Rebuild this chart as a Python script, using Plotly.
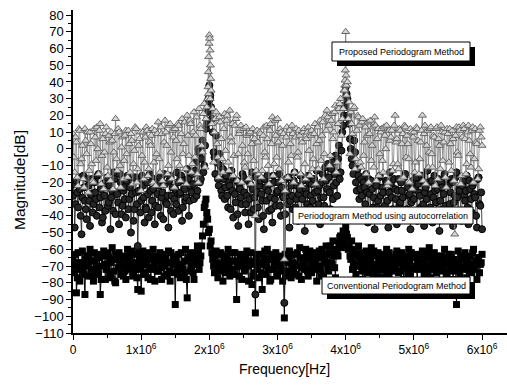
import plotly.graph_objects as go

# Frequency bins of the periodogram: even bins (0, 25 kHz, ... 6 MHz)
# and odd bins half-way between them (12.5 kHz resolution overall)
freq_even = [i * 25000 for i in range(241)]
freq_odd = [12500 + i * 25000 for i in range(240)]

# Proposed periodogram method (open triangles), dB
tri_even = [
    9, -14, 4, -22, 11, -6, -18, 12, -3, -26,
    10, -9, -20, 7, 13, -15, 15, -4, -24, 9,
    -11, 8, -19, 5, -2, 18, -13, 10, -23, 7,
    -7, 11, -17, 3, 9, -21, -1, 12, -12, 6,
    -25, 10, -8, 13, -16, 4, 8, -20, 11, -3,
    16, -14, 9, -22, 17, 2, -10, 15, -18, 7,
    12, -6, 14, -19, 18, 3, -12, 20, -4, 15,
    -9, 22, 8, -15, 24, 12, -2, 27, 18, 30,
    68, 35, 24, 10, 22, -5, 19, 6, -14, 21,
    17, -8, 23, 4, -16, 14, 20, -3, 11, -20,
    12, -11, 8, -18, 10, 3, -7, -40, 11, -15,
    9, -13, 13, -5, 6, -21, 15, 19, -9, 8,
    18, -12, 10, 2, -66, 7, -17, 11, -4, 9,
    -14, 12, -2, 8, -22, 10, -9, 6, 13, -16,
    11, -6, 15, 3, -12, 17, 8, -18, 20, 23,
    14, -4, 21, 10, 26, -8, 24, 30, 18, 35,
    70, 40, 28, 22, 9, 25, -6, 20, 14, -11,
    18, 4, -15, 16, 9, -7, 13, 19, -19, 12,
    -3, 12, -14, 8, 14, -20, 5, 11, -9, 20,
    6, -12, 11, 3, -17, 13, 8, -6, 12, -24,
    10, -8, 12, -15, 4, 20, 9, -21, 11, -2,
    13, -11, 7, 12, -18, 2, 14, -7, 10, -23,
    9, 12, -13, 6, -51, 13, -4, 11, -16, 14,
    6, -9, 14, -3, 11, -20, 12, 3, -12, 13, 2,
]
tri_odd = [
    -5, 7, -17, 12, -9, 2, -23, 5, 10, -13,
    3, -19, 12, -7, 0, 11, -21, 6, -2, 13,
    -16, 4, 10, -24, 9, -6, 12, -10, 1, -18,
    8, -3, 11, -14, 5, -9, 13, -20, 2, 10,
    -4, -18, 7, 11, -12, 2, 12, -8, -22, 9,
    -6, 13, -19, 4, 10, -15, 14, -2, 11, -23,
    5, 15, -10, 9, -3, 16, -21, 8, 17, -14,
    10, -5, 19, -20, 14, 2, 21, -11, 25, 33,
    30, 15, -8, 18, 3, -17, 16, -6, 12, -1,
    20, -13, 7, 15, -4, 18, -19, 9, 14, 2,
    -8, 13, -3, 9, -21, 12, 6, -13, 4, 10,
    -17, 8, -2, 14, -10, 11, 3, -16, 17, -5,
    4, 12, -19, 9, -25, 13, -8, 3, 14, -20,
    7, -5, 11, -15, 4, 12, -18, 10, -1, 8,
    -12, 9, -21, 13, 5, -7, 16, -3, 11, 19,
    -10, 17, 6, 22, -14, 15, 27, 8, 24, 38,
    32, 18, -3, 15, 24, -12, 11, 19, -8, 16,
    -4, 13, 8, -20, 17, 2, -11, 14, 6, -16,
    10, -7, 13, 0, -22, 11, 7, -13, 14, 4,
    -9, 12, -18, 9, 14, -5, 3, -20, 10, 7,
    -14, 13, 5, -6, 11, -19, 14, 2, -11, 12,
    -3, 8, -22, 13, 6, -12, 10, 4, -17, 12,
    -8, 3, 11, -19, 8, -2, 13, -21, 7, 12,
    -15, 10, 5, -11, 13, -6, 4, -18, 11, 7,
]
# finer bins around the two tones
tri_peak_freq = [1.98e6, 1.985e6, 1.99e6, 1.995e6, 2.005e6, 2.01e6, 2.015e6, 2.02e6,
                 3.985e6, 3.99e6, 3.995e6, 4.005e6, 4.01e6]
tri_peak_db = [37, 46, 55, 63, 66, 59, 50, 42, 35, 41, 47, 44, 38]

# Periodogram method using autocorrelation (filled circles), dB
circ_even = [
    -28, -47, -19, -35, -24, -51, -16, -31, -42, -22,
    -46, -18, -33, -26, -40, -15, -29, -44, -21, -37,
    -17, -32, -48, -25, -14, -39, -27, -45, -20, -34,
    -23, -41, -16, -30, -50, -19, -36, -26, -58, -18,
    -31, -22, -44, -36, -27, -15, -38, -24, -45, -20,
    -35, -17, -29, -42, -21, -33, -47, -16, -28, -39,
    -24, -14, -37, -26, -43, -19, -31, -12, -40, -22,
    -15, -30, -8, -25, -2, -18, 5, -10, 12, 22,
    38, 25, 10, -5, 8, -18, -3, -25, -12, -30,
    -16, -35, -22, -13, -41, -27, -19, -46, -24, -33,
    -17, -38, -28, -45, -21, -14, -36, -87, -26, -42,
    -19, -31, -48, -23, -16, -37, -29, -44, -20, -34,
    -25, -15, -40, -28, -92, -18, -33, -47, -22, -36,
    -14, -30, -43, -24, -38, -19, -49, -27, -16, -35,
    -21, -41, -26, -13, -33, -45, -20, -29, -11, -24,
    -17, -36, -8, -22, -4, -28, 2, -14, 10, 20,
    37, 30, 15, 0, -10, 5, -20, -12, -30, -18,
    -38, -23, -15, -44, -27, -19, -35, -48, -22, -31,
    -16, -42, -26, -34, -20, -47, -14, -29, -39, -24,
    -45, -18, -32, -25, -41, -15, -36, -28, -48, -21,
    -30, -17, -43, -26, -35, -19, -46, -23, -13, -38,
    -27, -44, -16, -32, -24, -49, -20, -36, -15, -41,
    -22, -33, -18, -46, -28, -14, -37, -25, -43, -19,
    -31, -16, -45, -24, -38, -20, -29, -47, -17, -34, -48,
]
circ_odd = [
    -21, -33, -26, -17, -40, -29, -23, -36, -18, -31,
    -27, -38, -20, -30, -16, -35, -24, -41, -28, -19,
    -34, -22, -29, -37, -18, -26, -32, -15, -39, -25,
    -30, -19, -36, -23, -27, -43, -17, -33, -25, -38,
    -16, -29, -35, -20, -41, -25, -31, -18, -34, -27,
    -22, -40, -26, -15, -32, -28, -19, -37, -23, -30,
    -33, -20, -27, -16, -35, -24, -29, -18, -31, -26,
    -21, -13, -28, 0, -20, -6, -14, 2, 15, 30,
    32, 18, -2, -15, -8, -22, -10, -28, -18, -23,
    -28, -20, -36, -25, -18, -32, -39, -21, -29, -15,
    -26, -33, -19, -30, -38, -24, -29, -17, -35, -22,
    -27, -40, -18, -31, -25, -21, -36, -16, -30, -26,
    -20, -34, -23, -29, -39, -26, -17, -31, -28, -19,
    -35, -22, -27, -16, -30, -41, -24, -33, -20, -28,
    -31, -18, -36, -25, -22, -29, -15, -34, -19, -9,
    -26, -12, -30, -15, -20, -6, -18, -1, 14, 26,
    33, 20, 6, -6, -15, -2, -25, -16, -24, -28,
    -20, -33, -26, -18, -37, -24, -29, -21, -35, -17,
    -28, -23, -38, -19, -31, -26, -22, -36, -18, -30,
    -25, -34, -20, -29, -17, -39, -23, -27, -32, -19,
    -24, -37, -21, -28, -16, -33, -26, -30, -20, -35,
    -19, -29, -25, -38, -18, -31, -23, -27, -34, -21,
    -36, -26, -20, -32, -17, -29, -24, -39, -22, -28,
    -25, -35, -19, -30, -22, -27, -40, -18, -33, -26,
]
circ_peak_freq = [1.99e6, 2.01e6, 3.99e6, 4.01e6]
circ_peak_db = [28, 30, 25, 32]

# Conventional periodogram method (filled squares), dB
sq_even = [
    -66, -74, -86, -62, -79, -68, -71, -87, -64, -76,
    -60, -72, -79, -67, -63, -75, -87, -70, -61, -78,
    -69, -65, -77, -59, -73, -80, -66, -62, -75, -70,
    -64, -78, -60, -72, -68, -76, -63, -71, -84, -66,
    -85, -61, -74, -69, -77, -64, -72, -60, -79, -67,
    -73, -62, -78, -66, -70, -75, -61, -79, -68, -64,
    -93, -71, -63, -77, -69, -74, -60, -89, -66, -73,
    -62, -78, -67, -58, -72, -64, -52, -35, -30, -42,
    -48, -55, -66, -74, -61, -77, -69, -63, -79, -65,
    -71, -60, -76, -67, -73, -62, -90, -70, -64, -78,
    -66, -72, -61, -79, -68, -81, -74, -98, -63, -77,
    -69, -84, -65, -75, -60, -72, -78, -66, -70, -62,
    -76, -64, -71, -79, -101, -67, -73, -61, -77, -68,
    -63, -75, -70, -59, -78, -66, -72, -64, -76, -61,
    -74, -68, -62, -79, -65, -71, -60, -76, -67, -63,
    -73, -58, -69, -64, -77, -61, -56, -52, -55, -50,
    -47, -53, -58, -66, -72, -60, -75, -64, -70, -62,
    -78, -66, -61, -73, -68, -59, -76, -64, -71, -62,
    -69, -77, -63, -72, -60, -75, -67, -79, -65, -70,
    -61, -74, -68, -62, -78, -66, -71, -60, -76, -64,
    -72, -63, -79, -67, -70, -61, -75, -65, -73, -59,
    -77, -68, -62, -74, -66, -79, -64, -71, -60, -76,
    -67, -73, -63, -78, -69, -93, -61, -75, -66, -72,
    -62, -77, -68, -64, -74, -60, -71, -78, -65, -69, -63,
]
sq_odd = [
    -70, -63, -77, -68, -72, -61, -75, -66, -70, -64,
    -67, -76, -62, -71, -73, -65, -78, -64, -69, -72,
    -62, -74, -68, -66, -79, -63, -71, -69, -65, -76,
    -73, -66, -70, -64, -61, -74, -68, -77, -62, -72,
    -69, -75, -65, -62, -71, -78, -66, -70, -64, -73,
    -67, -71, -63, -76, -65, -68, -73, -62, -74, -69,
    -66, -75, -70, -62, -72, -67, -78, -65, -63, -70,
    -74, -65, -69, -62, -68, -58, -45, -33, -38, -50,
    -58, -62, -70, -64, -68, -73, -62, -71, -67, -74,
    -64, -69, -72, -62, -75, -67, -70, -76, -63, -68,
    -73, -64, -70, -67, -62, -76, -69, -66, -72, -63,
    -74, -68, -61, -70, -66, -79, -63, -72, -67, -75,
    -65, -70, -67, -73, -63, -76, -68, -64, -71, -74,
    -69, -62, -76, -65, -71, -68, -60, -73, -66, -70,
    -63, -72, -66, -70, -61, -75, -64, -68, -58, -72,
    -62, -68, -55, -71, -60, -64, -53, -59, -49, -57,
    -51, -60, -64, -55, -68, -63, -70, -58, -66, -73,
    -65, -70, -74, -63, -67, -72, -61, -69, -75, -66,
    -72, -64, -68, -74, -66, -62, -71, -69, -73, -63,
    -68, -66, -73, -70, -64, -69, -75, -67, -62, -71,
    -65, -70, -66, -72, -63, -68, -69, -74, -62, -70,
    -66, -72, -70, -64, -71, -67, -73, -65, -69, -74,
    -63, -70, -72, -66, -73, -68, -70, -64, -71, -65,
    -70, -66, -73, -69, -62, -72, -67, -65, -74, -68,
]

x_tickvals = [0, 1e6, 2e6, 3e6, 4e6, 5e6, 6e6]
x_ticktext = ["0", "1x10<sup>6</sup>", "2x10<sup>6</sup>", "3x10<sup>6</sup>",
              "4x10<sup>6</sup>", "5x10<sup>6</sup>", "6x10<sup>6</sup>"]

for arr in (tri_even, circ_even, sq_even):
    assert len(arr) == len(freq_even)
for arr in (tri_odd, circ_odd, sq_odd):
    assert len(arr) == len(freq_odd)


def merged(*pairs):
    pts = sorted(p for f, v in pairs for p in zip(f, v))
    return [p[0] for p in pts], [p[1] for p in pts]


FONT = "Liberation Sans, Arial, sans-serif"

fig = go.Figure()

sq_x, sq_y = merged((freq_even, sq_even), (freq_odd, sq_odd))
fig.add_trace(go.Scatter(
    x=sq_x, y=sq_y, mode="lines+markers",
    line=dict(color="black", width=1),
    marker=dict(symbol="square", size=7, color="black", line=dict(width=0)),
    name="Conventional Periodogram Method",
))

ci_x, ci_y = merged((freq_even, circ_even), (freq_odd, circ_odd),
                    (circ_peak_freq, circ_peak_db))
fig.add_trace(go.Scatter(
    x=ci_x, y=ci_y, mode="lines+markers",
    line=dict(color="#1a1a1a", width=0.8),
    marker=dict(symbol="circle", size=7, color="#262626",
                line=dict(color="black", width=1)),
    name="Periodogram Method using autocorrelation",
))

tr_x, tr_y = merged((freq_even, tri_even), (freq_odd, tri_odd),
                    (tri_peak_freq, tri_peak_db))
fig.add_trace(go.Scatter(
    x=tr_x, y=tr_y, mode="lines+markers",
    line=dict(color="#7a7a7a", width=0.8),
    marker=dict(symbol="triangle-up", size=7, color="#d4d4d4",
                line=dict(color="#5a5a5a", width=0.9)),
    name="Proposed Periodogram Method",
))

# plot-area geometry (pixels) used to place the label boxes
L, T, W, H = 73, 10, 434, 323
XMAX, YMIN, YMAX = 6.366e6, -110, 83


def px_x(px):
    return (px - L) / W * XMAX


def px_y(py):
    return YMAX - (py - T) / H * (YMAX - YMIN)


def label_box(x0, y0, x1, y1, text, shadow=True):
    if shadow:
        fig.add_shape(type="rect", layer="above",
                      x0=px_x(x0 + 5), x1=px_x(x1 + 5), y0=px_y(y0 + 5), y1=px_y(y1 + 5),
                      fillcolor="black", line=dict(width=0))
    fig.add_shape(type="rect", layer="above",
                  x0=px_x(x0), x1=px_x(x1), y0=px_y(y0), y1=px_y(y1),
                  fillcolor="white", line=dict(color="black", width=1))
    fig.add_annotation(x=px_x((x0 + x1) / 2), y=px_y((y0 + y1) / 2), text=text,
                       xanchor="center", yanchor="middle", showarrow=False,
                       font=dict(family=FONT, size=9, color="black"))


label_box(332, 42, 470, 61, "Proposed Periodogram Method")
label_box(293, 207, 473, 224, "Periodogram Method using autocorrelation", shadow=False)
label_box(322, 277, 470, 294, "Conventional Periodogram Method")

fig.add_annotation(xref="paper", yref="paper", x=(19 - L) / W, y=(T + H - 180) / H,
                   xanchor="center", yanchor="middle",
                   text="Magnitude[dB]", textangle=-90, showarrow=False,
                   font=dict(family=FONT, size=15.5, color="black"))
fig.add_annotation(xref="paper", yref="paper", x=(284 - L) / W, y=(T + H - 369) / H,
                   xanchor="center", yanchor="middle",
                   text="Frequency[Hz]", showarrow=False,
                   font=dict(family=FONT, size=14, color="black"))

fig.update_layout(
    width=507, height=385,
    margin=dict(l=L, r=507 - L - W, t=T, b=385 - T - H, pad=0),
    paper_bgcolor="white", plot_bgcolor="white",
    showlegend=False,
    font=dict(family=FONT, size=13, color="black"),
)
fig.update_xaxes(
    range=[0, XMAX], showgrid=False, zeroline=False, automargin=False,
    showline=True, linecolor="black", linewidth=1.5,
    ticks="outside", ticklen=5, tickwidth=1.2, tickcolor="black",
    tickvals=x_tickvals, ticktext=x_ticktext, tickfont=dict(size=12),
    minor=dict(ticks="outside", ticklen=3, dtick=5e5, tickcolor="black"),
)
fig.update_yaxes(
    range=[YMIN, YMAX], showgrid=False, zeroline=False, automargin=False,
    showline=True, linecolor="black", linewidth=1.5,
    ticks="outside", ticklen=5, tickwidth=1.2, tickcolor="black",
    tick0=0, dtick=10, tickfont=dict(size=13),
    minor=dict(ticks="outside", ticklen=3, dtick=5, tickcolor="black"),
)

fig.write_html("out.html")
